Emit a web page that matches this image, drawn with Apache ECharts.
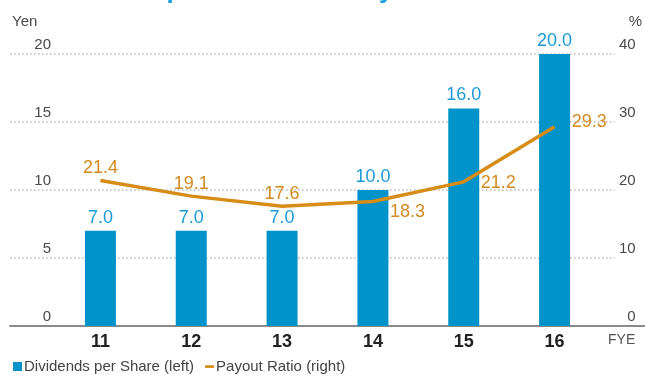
<!DOCTYPE html>
<html>
<head>
<meta charset="utf-8">
<script src="https://cdn.jsdelivr.net/npm/echarts@6/dist/echarts.min.js"></script>
<style>
  html, body { margin: 0; padding: 0; background: #fff; }
  #chart { width: 645px; height: 379px; }
</style>
</head>
<body>
<div id="chart"></div>
<script>
// Fiscal years and the two series
const years = ['11', '12', '13', '14', '15', '16'];
const dividends = [7.0, 7.0, 7.0, 10.0, 16.0, 20.0];     // Yen, left axis
const payoutRatio = [21.4, 19.1, 17.6, 18.3, 21.2, 29.3]; // %, right axis

// Where each payout-ratio label sits relative to its point
const ratioLabelPlacement = ['top', 'top', 'top', 'right', 'right', 'right'];
const ratioLabelOffset = [[0, 0], [0, 0], [0, 0], [0, 10], [0, 1], [0, -5]];

const yenTicks = { min: 0, max: 20, interval: 5 };
const pctTicks = { min: 0, max: 40, interval: 10 };

const FONT = '"Liberation Sans", Arial, Helvetica, sans-serif';
const BLUE = '#0093c9';
const BLUE_TEXT = '#1a9ad6';
const GOLD = '#d68c16';
const GOLD_TEXT = '#d38a1f';
const TICK_TEXT = '#4a4a4a';

// short horizontal dash used as the line's legend key
const DASH_ICON = 'path://M0,0M10,10M0,3.6L10,3.6L10,6.6L0,6.6Z';

const chart = echarts.init(document.getElementById('chart'), null, { renderer: 'canvas' });

const TOP = 54, BOTTOM = 53;

const option = {
  animation: false,
  textStyle: { fontFamily: FONT },
  title: {
    text: 'Dividends per Share and Payout Ratio',
    left: 30,
    top: -27,
    textStyle: { color: '#1ba0dc', fontSize: 26, fontWeight: 'bold', fontFamily: FONT }
  },
  legend: {
    left: 8,
    bottom: 0,
    itemWidth: 9,
    itemHeight: 9,
    itemGap: 11,
    textStyle: { color: '#444', fontSize: 15, fontFamily: FONT, padding: [0, 0, 0, -3] },
    data: [
      { name: 'Dividends per Share (left)', icon: 'rect' },
      { name: 'Payout Ratio (right)', icon: DASH_ICON }
    ]
  },
  grid: [
    // gridlines and value scales
    { left: 10, right: 23, top: TOP, bottom: BOTTOM },
    // baseline running to the right edge
    { left: 10, right: 0, top: TOP, bottom: BOTTOM },
    // bars and line
    { left: 55, right: 45, top: TOP, bottom: BOTTOM }
  ],
  xAxis: [
    { gridIndex: 0, type: 'value', show: false, min: 0, max: 1 },
    {
      gridIndex: 1, type: 'value', min: 0, max: 1,
      axisLine: { show: true, lineStyle: { color: '#8a8a8a', width: 2 } },
      axisTick: { show: false }, axisLabel: { show: false }, splitLine: { show: false }
    },
    {
      gridIndex: 2, type: 'category', data: years,
      axisLine: { show: false }, axisTick: { show: false },
      axisLabel: { color: '#222', fontSize: 18, fontWeight: 'bold', margin: 7, fontFamily: FONT },
      name: 'FYE',
      nameLocation: 'end',
      nameGap: 8,
      nameTextStyle: { color: '#555', fontSize: 14, align: 'left', verticalAlign: 'top', padding: [7, 0, 0, 0], fontFamily: FONT }
    }
  ],
  yAxis: [
    {
      gridIndex: 0, type: 'value', position: 'left',
      min: yenTicks.min, max: yenTicks.max, interval: yenTicks.interval,
      axisLine: { show: false }, axisTick: { show: false },
      axisLabel: {
        inside: true, align: 'right', verticalAlign: 'bottom', margin: 41,
        color: TICK_TEXT, fontSize: 15, padding: [0, 0, 2, 0], fontFamily: FONT
      },
      splitLine: {
        show: true,
        lineStyle: { color: '#b8b8b8', type: [1.5, 2.5], width: 1.5 }
      },
      name: 'Yen', nameLocation: 'end', nameGap: 32,
      nameTextStyle: { color: TICK_TEXT, fontSize: 15, align: 'left', verticalAlign: 'middle', padding: [0, 0, 0, 2], fontFamily: FONT }
    },
    {
      gridIndex: 0, type: 'value', position: 'right',
      min: pctTicks.min, max: pctTicks.max, interval: pctTicks.interval,
      axisLine: { show: false }, axisTick: { show: false },
      axisLabel: {
        align: 'right', verticalAlign: 'bottom', margin: 21,
        color: TICK_TEXT, fontSize: 15, padding: [0, 0, 2, 0], fontFamily: FONT
      },
      splitLine: { show: false },
      name: '%', nameLocation: 'end', nameGap: 32,
      nameTextStyle: { color: TICK_TEXT, fontSize: 15, align: 'left', verticalAlign: 'middle', padding: [0, 0, 0, 14], fontFamily: FONT }
    },
    { gridIndex: 1, type: 'value', show: false, min: 0, max: 1 },
    { gridIndex: 2, type: 'value', show: false, min: yenTicks.min, max: yenTicks.max },
    { gridIndex: 2, type: 'value', show: false, min: pctTicks.min, max: pctTicks.max }
  ],
  series: [
    {
      name: 'Dividends per Share (left)',
      type: 'bar',
      xAxisIndex: 2,
      yAxisIndex: 3,
      data: dividends,
      barWidth: 31,
      itemStyle: { color: BLUE },
      label: {
        show: true, position: 'top', distance: 4,
        color: BLUE_TEXT, fontSize: 18, fontFamily: FONT,
        formatter: p => p.value.toFixed(1)
      },
      z: 2
    },
    {
      name: 'Payout Ratio (right)',
      type: 'line',
      xAxisIndex: 2,
      yAxisIndex: 4,
      data: payoutRatio.map((v, i) => ({
        value: v,
        label: {
          position: ratioLabelPlacement[i],
          offset: ratioLabelOffset[i],
          distance: ratioLabelPlacement[i] === 'right' ? 17 : 3
        }
      })),
      symbol: 'circle',
      symbolSize: 0.1,
      showSymbol: true,
      lineStyle: { color: GOLD, width: 3.5 },
      itemStyle: { color: GOLD },
      label: {
        show: true,
        color: GOLD_TEXT, fontSize: 18, fontFamily: FONT,
        formatter: p => p.value.toFixed(1)
      },
      z: 3
    }
  ]
};

chart.setOption(option);
</script>
</body>
</html>
